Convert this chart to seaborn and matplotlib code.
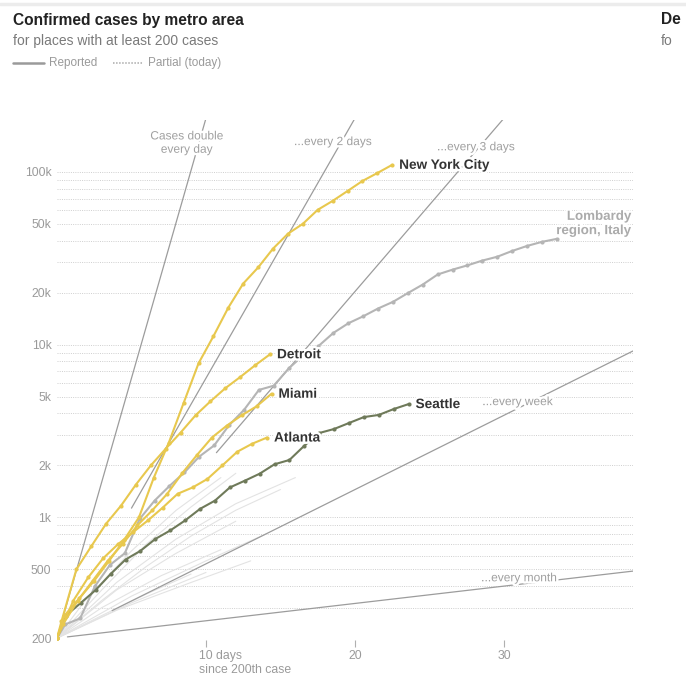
import matplotlib
matplotlib.use("Agg")
import matplotlib.pyplot as plt
import matplotlib.patheffects as pe
from matplotlib.lines import Line2D
import pandas as pd
import seaborn as sns

# cases per day since the 200th case (first point after 0 sits at a fraction of a day)
nyc_first = 0.5
nyc_cases = [200, 270, 340, 430, 560, 740, 1000, 1700, 2700, 4600, 7800, 11200, 16400,
             22600, 28000, 36000, 43900, 50100, 60400, 68000, 77600, 88700, 98600, 110000]
detroit_first = 0.3
detroit_cases = [200, 250, 500, 680, 920, 1170, 1550, 2000, 2500, 3100, 3900, 4700, 5600,
                 6500, 7600, 8800]
miami_first = 0.4
miami_cases = [200, 240, 330, 430, 560, 700, 900, 1100, 1370, 1800, 2300, 2900, 3400,
               3900, 4400, 5200]
atlanta_first = 1.1
atlanta_cases = [200, 330, 450, 580, 700, 820, 960, 1140, 1370, 1490, 1670, 2000, 2400,
                 2670, 2900]
seattle_first = 0.6
seattle_cases = [200, 270, 320, 380, 470, 570, 640, 750, 840, 960, 1120, 1250, 1490, 1630,
                 1790, 2030, 2150, 2600, 3080, 3250, 3520, 3810, 3920, 4240, 4530]
lombardy_first = 0.55
lombardy_cases = [200, 240, 260, 400, 530, 620, 980, 1250, 1520, 1820, 2250, 2610, 3420,
                  4190, 5470, 5790, 7280, 8730, 9820, 11700, 13300, 14600, 16200, 17700,
                  19900, 22300, 25500, 27200, 28800, 30700, 32300, 34900, 37300, 39400, 41000]

# other places, drawn faint
faint_days = [[0, 4, 8, 12, 16], [0, 3, 6, 9, 12, 15], [0, 4, 8, 12], [0, 5, 10, 14],
              [0, 3, 7, 11], [0, 4, 9, 13], [0, 5, 10], [0, 3, 6, 9, 12], [0, 2, 5, 8, 11],
              [0, 3, 6, 9]]
faint_cases = [[200, 420, 750, 1200, 1700], [200, 330, 520, 780, 1100, 1450],
               [200, 380, 620, 950], [200, 350, 560, 800], [200, 300, 460, 650],
               [200, 290, 420, 560], [200, 320, 480], [200, 380, 700, 1150, 1800],
               [200, 340, 640, 1100, 1700], [200, 270, 360, 470]]

# doubling guides: (days to double, first day drawn, label, label x, label y)
guides = [(1, 0.4, "Cases double\nevery day", 8.7, 147000),
          (2, 5.0, "...every 2 days", 18.5, 149000),
          (3, 10.7, "...every 3 days", 28.1, 139000),
          (7, 3.7, "...every week", 30.9, 4650),
          (30, 0.7, "...every month", 31.0, 444)]

ytick_vals = [200, 500, 1000, 2000, 5000, 10000, 20000, 50000, 100000]
ytick_text = ["200", "500", "1k", "2k", "5k", "10k", "20k", "50k", "100k"]
grid_vals = [m * 10 ** e for e in (2, 3, 4) for m in range(1, 10)
             if 300 <= m * 10 ** e <= 90000] + [100000]


def days_from(first, n):
    return [0] + [first + i for i in range(n - 1)]


series = {
    "Lombardy": (lombardy_first, lombardy_cases),
    "Seattle": (seattle_first, seattle_cases),
    "Atlanta": (atlanta_first, atlanta_cases),
    "Miami": (miami_first, miami_cases),
    "Detroit": (detroit_first, detroit_cases),
    "New York City": (nyc_first, nyc_cases),
}
df = pd.concat([pd.DataFrame({"day": days_from(f, len(v)), "cases": v, "place": k})
                for k, (f, v) in series.items()])
faint = pd.concat([pd.DataFrame({"day": d, "cases": c, "id": i})
                   for i, (d, c) in enumerate(zip(faint_days, faint_cases))])

yellow = "#e8c84e"
palette = {"New York City": yellow, "Detroit": yellow, "Miami": yellow, "Atlanta": yellow,
           "Seattle": "#6f7a5a", "Lombardy": "#b5b5b5"}

sns.set_style("white")
plt.rcParams["font.family"] = ["Liberation Sans", "DejaVu Sans"]

fig = plt.figure(figsize=(6.86, 6.75), dpi=100)
ax = fig.add_axes([57 / 686, 35 / 675, 576 / 686, 520 / 675])
ax.set_yscale("log")
XMAX = 38.66
ax.set_xlim(0, XMAX)
ax.set_ylim(195, 200000)

ax.hlines(grid_vals, 0, XMAX, colors="#cfcfcf", lw=0.7, linestyles=(0, (1, 1.3)), zorder=0)

sns.lineplot(data=faint, x="day", y="cases", units="id", estimator=None, color="#e3e3e3",
             lw=0.8, ax=ax, zorder=1)

halo = [pe.withStroke(linewidth=3.5, foreground="white")]
for p, start, label, lx, ly in guides:
    ax.plot([start, XMAX], [200 * 2 ** (start / p), 200 * 2 ** (XMAX / p)],
            color="#9c9c9c", lw=0.9, zorder=2)
    ax.text(lx, ly, label, ha="center", va="center", fontsize=8.6, color="#a0a0a0",
            linespacing=1.15, path_effects=halo, zorder=3)

sns.lineplot(data=df, x="day", y="cases", hue="place", hue_order=list(series),
             palette=palette, estimator=None, sort=False, marker="o", markersize=3,
             markeredgewidth=0, lw=1.5, legend=False, ax=ax, zorder=4)

for name in ["New York City", "Detroit", "Miami", "Atlanta", "Seattle"]:
    f, v = series[name]
    ax.annotate(name, (days_from(f, len(v))[-1], v[-1]), xytext=(5, 0),
                textcoords="offset points", ha="left", va="center", fontsize=9.8,
                fontweight="bold", color="#333333", path_effects=halo, zorder=5)
ax.text(38.55, 50000, "Lombardy\nregion, Italy", ha="right", va="center", fontsize=9.6,
        fontweight="bold", color="#ababab", linespacing=1.25, path_effects=halo, zorder=5)

sns.despine(ax=ax, left=True, bottom=True)
ax.set_xlabel("")
ax.set_ylabel("")
ax.set_yticks(ytick_vals)
ax.set_yticklabels(ytick_text)
ax.yaxis.set_minor_locator(matplotlib.ticker.NullLocator())
ax.tick_params(axis="y", length=0, pad=4, labelsize=8.7, labelcolor="#9a9a9a")
ax.set_xticks([10, 20, 30])
ax.set_xticklabels(["", "20", "30"])
ax.tick_params(axis="x", length=5, width=0.8, color="#b0b0b0", pad=2, labelsize=8.8,
               labelcolor="#9a9a9a", bottom=True)
ax.text(9.55, -0.02, "10 days\nsince 200th case", transform=ax.get_xaxis_transform(),
        ha="left", va="top", fontsize=8.8, color="#9a9a9a", linespacing=1.15)

# header
fig.add_artist(Line2D([0, 1], [1 - 4 / 675] * 2, color="#ececec", lw=2.5))
fig.text(13 / 686, 1 - 20 / 675, "Confirmed cases by metro area", fontsize=11.2,
         fontweight="bold", color="#222222", va="center")
fig.text(13 / 686, 1 - 41 / 675, "for places with at least 200 cases", fontsize=10,
         color="#7a7a7a", va="center")
fig.text(661 / 686, 1 - 20 / 675, "De", fontsize=11.2, fontweight="bold",
         color="#222222", va="center")
fig.text(661 / 686, 1 - 41 / 675, "fo", fontsize=10, color="#7a7a7a", va="center")
fig.add_artist(Line2D([13 / 686, 44 / 686], [1 - 63 / 675] * 2, color="#9a9a9a", lw=1.8))
fig.text(49 / 686, 1 - 63 / 675, "Reported", fontsize=8.5, color="#9a9a9a", va="center")
fig.add_artist(Line2D([113 / 686, 143 / 686], [1 - 63 / 675] * 2, color="#aaaaaa", lw=1.1,
                      ls=(0, (1, 1))))
fig.text(148 / 686, 1 - 63 / 675, "Partial (today)", fontsize=8.5, color="#9a9a9a",
         va="center")

fig.savefig("out.png", dpi=100, facecolor="white")
